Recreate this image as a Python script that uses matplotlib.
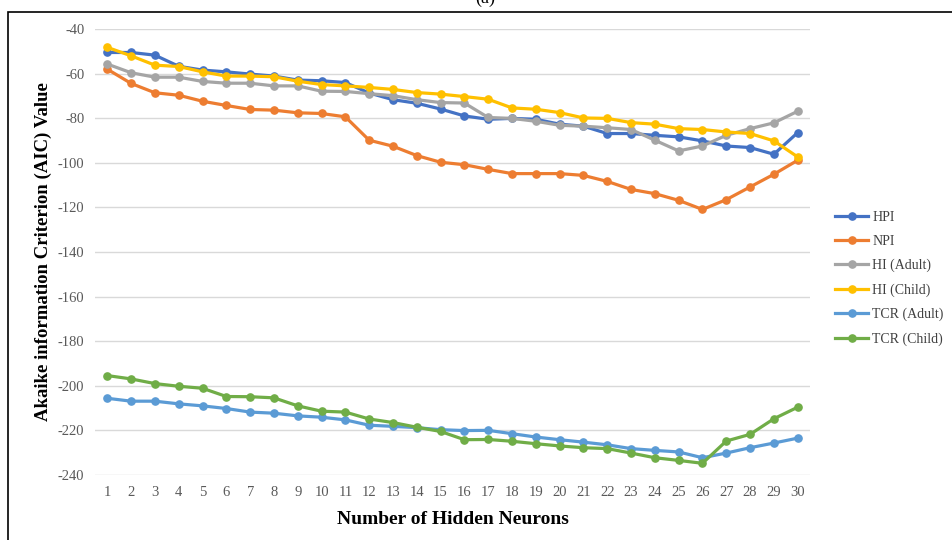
import matplotlib
matplotlib.use("Agg")
import matplotlib.pyplot as plt
from matplotlib.patches import Rectangle

neurons = list(range(1, 31))

hpi = [-50.4, -50.4, -51.6, -56.6, -58.3, -59.1, -60.1, -61.0, -62.8, -63.1,
       -63.9, -68.6, -71.6, -73.2, -75.8, -78.9, -80.4, -80.0, -80.4, -82.6,
       -83.5, -86.8, -86.8, -87.6, -88.3, -90.1, -92.4, -93.1, -96.1, -86.4]
npi = [-57.9, -64.3, -68.5, -69.6, -72.3, -74.2, -76.0, -76.3, -77.5, -77.8,
       -79.3, -89.8, -92.5, -96.7, -99.7, -100.8, -102.9, -104.8, -104.8, -104.8,
       -105.6, -108.3, -111.9, -113.8, -116.8, -120.9, -116.5, -110.8, -105.1, -98.8]
hi_adult = [-55.6, -59.5, -61.5, -61.5, -63.4, -64.2, -64.2, -65.4, -65.4, -67.8,
            -67.9, -68.9, -69.8, -71.6, -72.9, -73.1, -79.6, -80.0, -81.3, -83.1,
            -83.5, -84.2, -85.0, -89.8, -94.6, -92.4, -87.6, -84.6, -82.0, -76.8]
hi_child = [-48.1, -51.9, -56.1, -56.7, -59.1, -61.0, -61.0, -61.3, -63.3, -64.8,
            -65.4, -66.1, -67.0, -68.4, -69.1, -70.2, -71.4, -75.3, -75.9, -77.4,
            -79.8, -80.0, -81.9, -82.6, -84.6, -85.0, -86.1, -86.8, -90.1, -97.3]
tcr_adult = [-205.7, -207.0, -207.0, -208.2, -209.1, -210.3, -211.9, -212.4, -213.6, -214.2,
             -215.4, -217.8, -218.3, -218.9, -219.8, -220.2, -220.1, -221.6, -223.1, -224.3,
             -225.4, -226.6, -228.3, -229.1, -229.8, -232.4, -230.3, -227.9, -225.8, -223.6]
tcr_child = [-195.5, -197.0, -199.1, -200.3, -201.2, -204.9, -205.0, -205.5, -209.1, -211.5,
             -211.9, -215.0, -216.6, -218.7, -220.6, -224.3, -224.2, -225.0, -226.1, -227.1,
             -227.9, -228.3, -230.3, -232.4, -233.6, -234.9, -224.9, -221.9, -214.9, -209.7]

series = [("HPI", hpi, "#4472C4"), ("NPI", npi, "#ED7D31"),
          ("HI (Adult)", hi_adult, "#A5A5A5"), ("HI (Child)", hi_child, "#FFC000"),
          ("TCR (Adult)", tcr_adult, "#5B9BD5"), ("TCR (Child)", tcr_child, "#70AD47")]
yticks = list(range(-240, -39, 20))

plt.rcParams["axes.unicode_minus"] = False
serif = ["Liberation Serif", "DejaVu Serif"]
fig = plt.figure(figsize=(9.52, 5.4), dpi=100)
ax = fig.add_axes([0.1002, 0.121, 0.7502, 0.8247])

for name, vals, col in series:
    ax.plot(neurons, vals, color=col, lw=2.3, marker="o", ms=5.2, label=name)

ax.set_xlim(0.5, 30.5); ax.set_ylim(-240, -40)
ax.set_xticks(neurons); ax.set_yticks(yticks)
ax.grid(axis="y", color="#d9d9d9", lw=1.0); ax.set_axisbelow(True)
for s in ax.spines.values():
    s.set_visible(False)
ax.tick_params(length=0, labelsize=10.5, labelcolor="#595959", pad=8)
for lab in ax.get_xticklabels() + ax.get_yticklabels():
    lab.set_family(serif)

ax.set_xlabel("Number of Hidden Neurons", fontsize=14, fontweight="bold", family=serif, labelpad=9)
ax.set_ylabel("Akaike information Criterion (AIC) Value", fontsize=13.5, fontweight="bold", family=serif, labelpad=4)

leg = ax.legend(loc="center left", bbox_to_anchor=(835 / 952, 1 - 278.3 / 540), bbox_transform=fig.transFigure,
                frameon=False, borderpad=0, borderaxespad=0, handlelength=2.4, handletextpad=0.3,
                labelspacing=0.8, prop={"family": serif, "size": 10})
for t in leg.get_texts():
    t.set_color("#404040")

# outer frame and cut-off panel label
fig.add_artist(Rectangle((8 / 952, -0.05), 1.0, 1.05 - 11.5 / 540, transform=fig.transFigure,
                         fill=False, ec="black", lw=1.2))
fig.text(485 / 952, 1 - 7 / 540, "(a)", ha="center", va="bottom", fontsize=13, family=serif)

fig.savefig("out.png")
